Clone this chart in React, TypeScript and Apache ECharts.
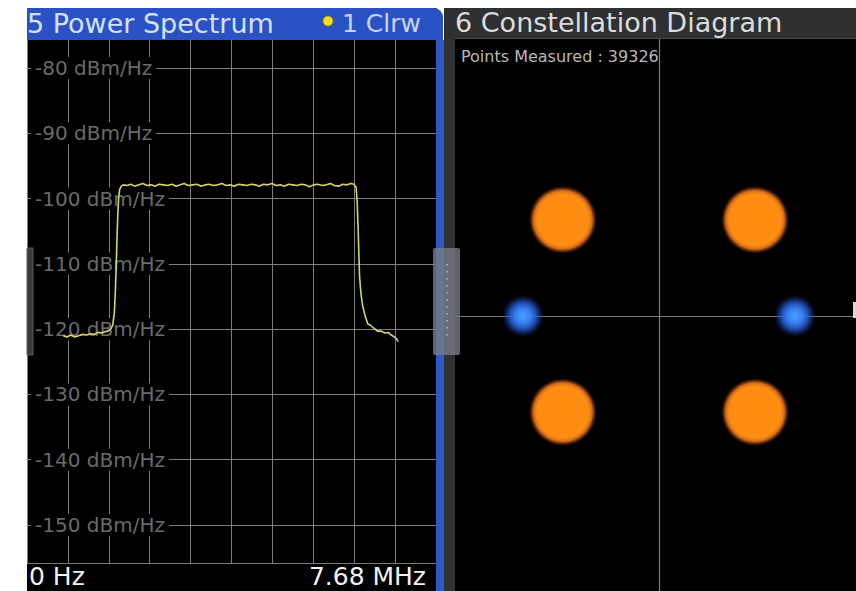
import React, { useEffect, useRef } from "react";
import * as echarts from "echarts";

// ---- Power spectrum trace (frequency in MHz, level in dBm/Hz) ----
const specFreqMHz = [
  0.68, 0.75, 0.82, 0.9, 0.97, 1.05, 1.12, 1.2, 1.27, 1.33, 1.4, 1.46, 1.52, 1.57, 1.61, 1.64, 1.66, 1.675,
  1.69, 1.705, 1.72, 1.74, 1.77, 1.81, 1.88, 1.95, 2.02, 2.1, 2.18, 2.25, 2.33, 2.41, 2.48, 2.56, 2.64, 2.72,
  2.8, 2.88, 2.95, 3.03, 3.11, 3.19, 3.27, 3.35, 3.42, 3.5, 3.58, 3.66, 3.74, 3.82, 3.89, 3.97, 4.05, 4.13,
  4.21, 4.29, 4.36, 4.44, 4.52, 4.6, 4.68, 4.76, 4.83, 4.91, 4.99, 5.07, 5.15, 5.23, 5.3, 5.38, 5.46, 5.54,
  5.62, 5.7, 5.77, 5.85, 5.93, 6.01, 6.08, 6.14, 6.18, 6.2, 6.215, 6.23, 6.245, 6.27, 6.3, 6.35, 6.4, 6.45,
  6.52, 6.58, 6.65, 6.72, 6.78, 6.84, 6.9, 6.94, 6.97,
];
const specLevel = [
  -121.0, -121.2, -120.9, -121.2, -121.0, -120.8, -120.9, -120.7, -120.8, -120.5, -120.6, -120.4, -120.3,
  -120.0, -119.4, -117.5, -114.0, -110.5, -106.0, -102.5, -100.0, -98.6, -98.1, -97.9, -98.0, -97.8, -98.1,
  -97.9, -97.7, -98.0, -97.9, -98.1, -97.8, -97.9, -98.0, -97.8, -98.1, -97.9, -97.7, -98.0, -97.9, -97.8,
  -98.1, -97.9, -97.8, -98.0, -97.9, -97.7, -98.0, -97.9, -98.1, -97.8, -97.9, -98.0, -97.8, -97.9, -98.1,
  -97.8, -97.9, -97.7, -98.0, -97.9, -98.1, -97.8, -97.9, -98.0, -97.8, -97.9, -98.2, -97.9, -97.8, -98.0,
  -97.9, -97.7, -98.0, -98.1, -97.8, -97.9, -97.7, -97.8, -98.3, -100.5, -104.0, -108.0, -112.0, -114.5,
  -116.3, -118.0, -119.2, -119.4, -119.9, -120.3, -120.3, -120.6, -120.5, -120.9, -121.2, -121.5, -121.9,
];

// spectrum axes
const specFreqMin = 0;
const specFreqMax = 7.68;
const specFreqStep = 0.768;
const specLevelMin = -160;
const specLevelMax = -70;
const specLevelStep = 10;
const specLevelUnit = "dBm/Hz";
const specStartLabel = "0 Hz";
const specStopLabel = "7.68 MHz";

// ---- Constellation (I/Q cluster centres) ----
const orangeI = [0.707, -0.707, -0.707, 0.707];
const orangeQ = [0.707, 0.707, -0.707, -0.707];
const blueI = [1.0, -1.0];
const blueQ = [0.0, 0.0];
const constIMin = -1.5;
const constIMax = 1.449;
const constQMin = -2.022;
const constQMax = 2.044;
const pointsMeasured = 39326;

// ---- Titles ----
const leftTitle = "5 Power Spectrum";
const traceTag = "1 Clrw";
const rightTitle = "6 Constellation Diagram";

export default function App() {
  const ref = useRef<HTMLDivElement>(null);

  useEffect(() => {
    if (!ref.current) return;
    const chart = echarts.init(ref.current, undefined, { renderer: "svg" });
    const FONT = "DejaVu Sans";

    const specData = specFreqMHz.map((f, i) => [f, specLevel[i]]);
    const orangeData = orangeI.map((v, i) => [v, orangeQ[i]]);
    const blueData = blueI.map((v, i) => [v, blueQ[i]]);

    const orangeFill = {
      type: "radial",
      x: 0.5,
      y: 0.5,
      r: 0.5,
      colorStops: [
        { offset: 0, color: "#ff8c0a" },
        { offset: 0.76, color: "#ff8d14" },
        { offset: 0.86, color: "rgba(235,120,25,0.9)" },
        { offset: 0.94, color: "rgba(150,65,15,0.5)" },
        { offset: 1, color: "rgba(80,30,10,0)" },
      ],
    };
    const blueFill = {
      type: "radial",
      x: 0.5,
      y: 0.5,
      r: 0.5,
      colorStops: [
        { offset: 0, color: "#4d9cff" },
        { offset: 0.35, color: "#3a80f4" },
        { offset: 0.62, color: "rgba(40,100,225,0.8)" },
        { offset: 0.84, color: "rgba(30,70,180,0.38)" },
        { offset: 1, color: "rgba(20,40,120,0)" },
      ],
    };

    const option: any = {
      animation: false,
      backgroundColor: "transparent",
      grid: [
        {
          left: 27,
          top: 2.7,
          width: 409,
          height: 587.6,
          show: true,
          backgroundColor: "#000",
          borderWidth: 0,
          containLabel: false,
          outerBoundsMode: "none",
        },
        {
          left: 455,
          top: 38,
          right: 0,
          bottom: 0,
          show: true,
          backgroundColor: "#000",
          borderWidth: 0,
          containLabel: false,
          outerBoundsMode: "none",
        },
      ],
      xAxis: [
        {
          type: "value",
          gridIndex: 0,
          min: specFreqMin,
          max: specFreqMax,
          interval: specFreqStep,
          axisLine: { show: false },
          axisTick: { show: false },
          axisLabel: { show: false },
          splitLine: { show: true, lineStyle: { color: "#7e7e7e", width: 1 } },
        },
        {
          type: "value",
          gridIndex: 1,
          min: constIMin,
          max: constIMax,
          axisLine: { show: true, onZero: true, lineStyle: { color: "#7c7c7c", width: 1.2 } },
          axisTick: { show: false },
          axisLabel: { show: false },
          splitLine: { show: false },
        },
      ],
      yAxis: [
        {
          type: "value",
          gridIndex: 0,
          min: specLevelMin,
          max: specLevelMax,
          interval: specLevelStep,
          axisLine: { show: false },
          axisTick: { show: false },
          splitLine: { show: true, lineStyle: { color: "#7e7e7e", width: 1 } },
          axisLabel: {
            show: true,
            inside: true,
            margin: 4,
            showMinLabel: false,
            showMaxLabel: false,
            formatter: (v: number) => `${v} ${specLevelUnit}`,
            color: "#6a6a6a",
            fontFamily: FONT,
            fontSize: 20,
            backgroundColor: "#000",
            padding: [1, 4, 1, 4],
          },
        },
        {
          type: "value",
          gridIndex: 1,
          min: constQMin,
          max: constQMax,
          axisLine: { show: true, onZero: true, lineStyle: { color: "#7c7c7c", width: 1.2 } },
          axisTick: { show: false },
          axisLabel: { show: false },
          splitLine: { show: false },
        },
      ],
      series: [
        {
          type: "line",
          xAxisIndex: 0,
          yAxisIndex: 0,
          data: specData,
          showSymbol: false,
          silent: true,
          z: 5,
          lineStyle: { color: "#d6d46c", width: 1.6 },
        },
        {
          type: "scatter",
          xAxisIndex: 1,
          yAxisIndex: 1,
          data: orangeData,
          symbol: "circle",
          symbolSize: 68,
          silent: true,
          itemStyle: { color: orangeFill, opacity: 1 },
        },
        {
          type: "scatter",
          xAxisIndex: 1,
          yAxisIndex: 1,
          data: blueData,
          symbol: "circle",
          symbolSize: 42,
          silent: true,
          itemStyle: { color: blueFill, opacity: 1 },
        },
      ],
      graphic: {
        elements: [
          { type: "rect", z: 100, shape: { x: 0, y: 0, width: 856, height: 8 }, style: { fill: "#ffffff" } },
          { type: "rect", z: 100, shape: { x: 0, y: 0, width: 27, height: 591 }, style: { fill: "#ffffff" } },
          {
            type: "rect",
            z: 100,
            shape: { x: 27, y: 8, width: 416, height: 32, r: [0, 9, 0, 0] },
            style: { fill: "#2a52c4" },
          },
          { type: "rect", z: 100, shape: { x: 436, y: 40, width: 8, height: 551 }, style: { fill: "#2f57c6" } },
          { type: "rect", z: 100, shape: { x: 444, y: 8, width: 412, height: 30 }, style: { fill: "#2e3032" } },
          { type: "rect", z: 100, shape: { x: 444, y: 38, width: 11, height: 553 }, style: { fill: "#2e3032" } },
          {
            type: "line",
            z: 101,
            shape: { x1: 455, y1: 38.5, x2: 856, y2: 38.5 },
            style: { stroke: "#4a4a4a", lineWidth: 1 },
          },
          { type: "rect", z: 100, shape: { x: 27, y: 564, width: 409, height: 27 }, style: { fill: "#000" } },
          {
            type: "line",
            z: 101,
            shape: { x1: 27, y1: 563.5, x2: 436, y2: 563.5 },
            style: { stroke: "#7a7a7a", lineWidth: 1 },
          },
          {
            type: "rect",
            z: 102,
            shape: { x: 433, y: 248, width: 27, height: 107, r: 2 },
            style: { fill: "rgba(118,124,136,0.8)" },
          },
          {
            type: "line",
            z: 103,
            shape: { x1: 447, y1: 264, x2: 447, y2: 340 },
            style: { stroke: "#b4b8c4", lineWidth: 1.5, lineDash: [1.5, 5.5] },
          },
          {
            type: "rect",
            z: 102,
            shape: { x: 27, y: 248, width: 6, height: 107 },
            style: { fill: "#3a3a3a", stroke: "#5c5c5c", lineWidth: 1 },
          },
          { type: "rect", z: 102, shape: { x: 853, y: 302, width: 3, height: 16 }, style: { fill: "#d8d8d8" } },
          {
            type: "circle",
            z: 103,
            shape: { cx: 328, cy: 21, r: 5 },
            style: { fill: "#f4e21c", stroke: "#9a8a10", lineWidth: 1 },
          },
          {
            type: "text",
            z: 103,
            x: 27,
            y: 23,
            style: {
              text: leftTitle,
              fill: "#d4e2ff",
              fontFamily: FONT,
              fontSize: 27,
              textAlign: "left",
              textVerticalAlign: "middle",
              verticalAlign: "middle",
            },
          },
          {
            type: "text",
            z: 103,
            x: 342,
            y: 23,
            style: {
              text: traceTag,
              fill: "#c4d6fb",
              fontFamily: FONT,
              fontSize: 25,
              textAlign: "left",
              textVerticalAlign: "middle",
              verticalAlign: "middle",
            },
          },
          {
            type: "text",
            z: 103,
            x: 455,
            y: 22,
            style: {
              text: rightTitle,
              fill: "#dcdcdc",
              fontFamily: FONT,
              fontSize: 27,
              textAlign: "left",
              textVerticalAlign: "middle",
              verticalAlign: "middle",
            },
          },
          {
            type: "text",
            z: 103,
            x: 461,
            y: 56,
            style: {
              text: `Points Measured : ${pointsMeasured}`,
              fill: "#b8b8b8",
              fontFamily: FONT,
              fontSize: 16,
              textAlign: "left",
              textVerticalAlign: "middle",
              verticalAlign: "middle",
            },
          },
          {
            type: "text",
            z: 103,
            x: 29,
            y: 576,
            style: {
              text: specStartLabel,
              fill: "#f2f2f2",
              fontFamily: FONT,
              fontSize: 25,
              textAlign: "left",
              textVerticalAlign: "middle",
              verticalAlign: "middle",
            },
          },
          {
            type: "text",
            z: 103,
            x: 426,
            y: 576,
            style: {
              text: specStopLabel,
              fill: "#f2f2f2",
              fontFamily: FONT,
              fontSize: 25,
              textAlign: "right",
              textVerticalAlign: "middle",
              verticalAlign: "middle",
            },
          },
        ],
      },
    };

    chart.setOption(option);
    return () => {
      chart.dispose();
    };
  }, []);

  return (
    <div
      ref={ref}
      style={{ position: "fixed", left: 0, top: 0, width: 856, height: 591, background: "#ffffff" }}
    />
  );
}
